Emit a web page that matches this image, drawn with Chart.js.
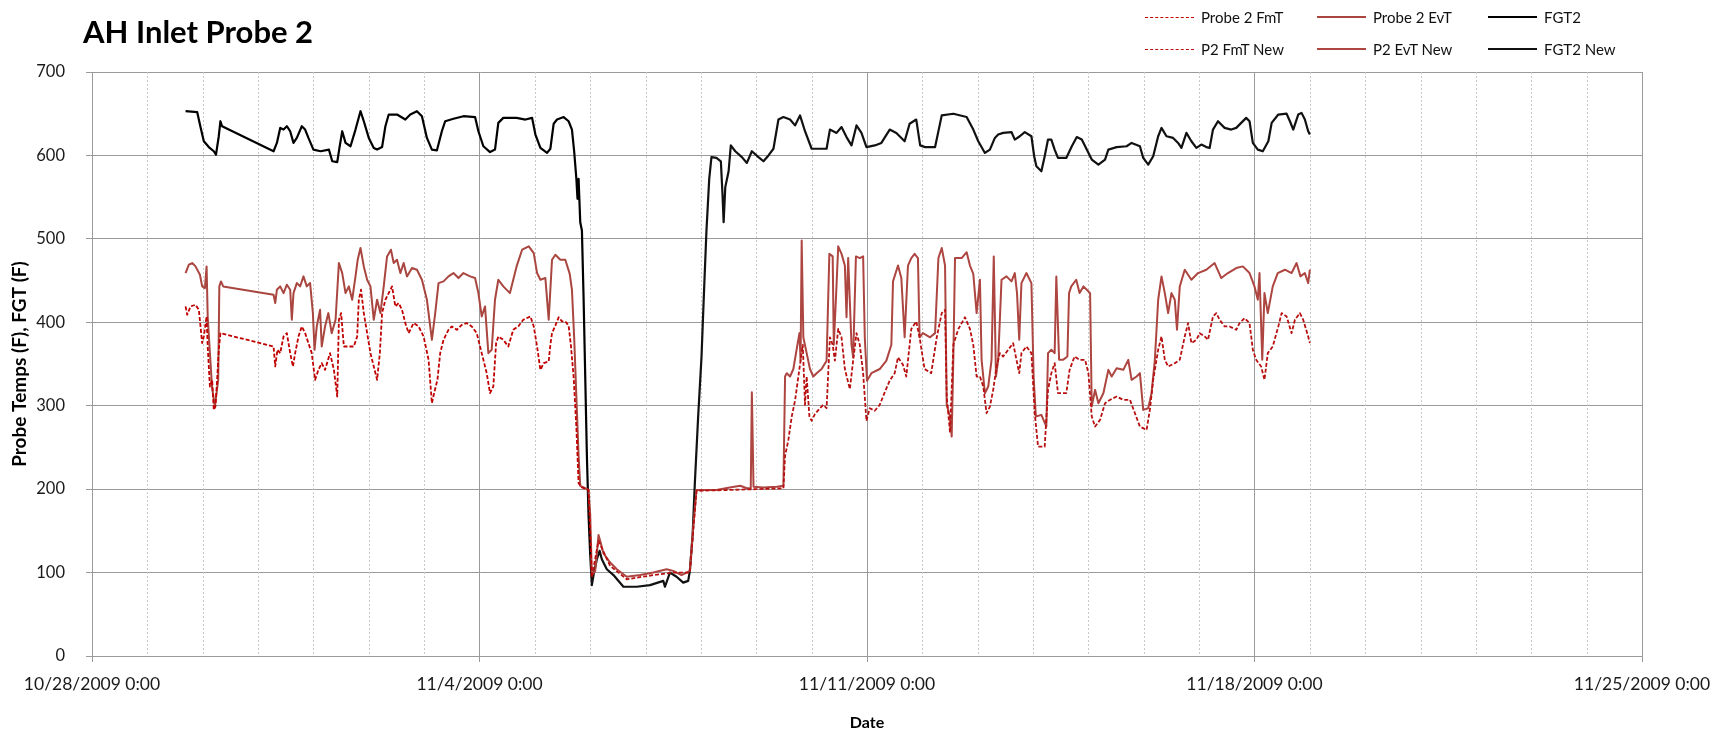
<!DOCTYPE html>
<html>
<head>
<meta charset="utf-8">
<title>AH Inlet Probe 2</title>
<script src="https://cdn.jsdelivr.net/npm/chart.js@4.4.1/dist/chart.umd.min.js"></script>
<style>
  html, body { margin: 0; padding: 0; background: #fff; }
  #wrap { position: relative; width: 1728px; height: 732px; overflow: hidden; }
  #chart { position: absolute; left: 0; top: 0; }
  #title {
    position: absolute; left: 83px; top: 16px;
    font: bold 31px Lato, "Open Sans", sans-serif; line-height: 1; color: #000;
  }
  #legend {
    position: absolute; left: 1145px; top: 1px;
    display: grid; grid-template-columns: 172px 171px 160px; grid-auto-rows: 32px;
    font: 15px Lato, "Open Sans", sans-serif; color: #111;
  }
  #legend .item { display: flex; align-items: center; white-space: nowrap; }
  #legend .sample { display: inline-block; width: 49px; height: 0; margin-right: 7px; }
</style>
</head>
<body>
<div id="wrap">
  <canvas id="chart" width="1728" height="732"></canvas>
  <div id="title">AH Inlet Probe 2</div>
  <div id="legend"></div>
</div>
<script>
// time axis: days since 10/28/2009 0:00
const START_UTC = Date.UTC(2009, 9, 28);
const SPLIT_DAY = 9; // "New" series pick up from 11/6

const fgtDays = [
  1.69, 1.90, 1.96, 2.02, 2.11, 2.20, 2.24, 2.29, 2.32, 2.35,
  3.28, 3.34, 3.40, 3.46, 3.52, 3.58, 3.64, 3.70, 3.79, 3.85,
  3.91, 4.00, 4.13, 4.28, 4.34, 4.43, 4.47, 4.52, 4.58, 4.67,
  4.76, 4.85, 4.91, 5.00, 5.09, 5.15, 5.24, 5.30, 5.36, 5.51,
  5.66, 5.75, 5.87, 5.96, 6.05, 6.14, 6.23, 6.32, 6.38, 6.53,
  6.71, 6.92, 6.98, 7.07, 7.19, 7.28, 7.34, 7.43, 7.67, 7.83,
  7.95, 8.01, 8.10, 8.22, 8.28, 8.34, 8.40, 8.52, 8.61, 8.67,
  8.71, 8.75, 8.77, 8.79, 8.82, 8.85, 8.88, 8.91, 8.94, 8.97,
  9.00, 9.03, 9.06, 9.12, 9.17, 9.21, 9.30, 9.42, 9.60, 9.84,
  10.08, 10.32, 10.35, 10.44, 10.56, 10.68, 10.77, 10.80, 10.85, 10.89,
  10.95, 11.01, 11.06, 11.10, 11.15, 11.19, 11.28, 11.36, 11.39, 11.41,
  11.44, 11.50, 11.54, 11.62, 11.74, 11.83, 11.92, 12.04, 12.13, 12.22,
  12.31, 12.40, 12.49, 12.61, 12.70, 12.79, 12.88, 13.00, 13.15, 13.27,
  13.33, 13.45, 13.54, 13.63, 13.72, 13.81, 13.90, 13.99, 14.14, 14.26,
  14.41, 14.53, 14.68, 14.77, 14.89, 14.96, 15.05, 15.23, 15.35, 15.56,
  15.80, 15.92, 16.01, 16.13, 16.22, 16.31, 16.37, 16.46, 16.61, 16.67,
  16.76, 16.85, 16.97, 17.02, 17.06, 17.15, 17.21, 17.27, 17.33, 17.39,
  17.45, 17.60, 17.70, 17.79, 17.88, 17.97, 18.06, 18.18, 18.30, 18.36,
  18.51, 18.69, 18.78, 18.93, 18.99, 19.08, 19.17, 19.26, 19.32, 19.41,
  19.53, 19.62, 19.68, 19.77, 19.86, 19.95, 20.04, 20.13, 20.19, 20.25,
  20.34, 20.46, 20.58, 20.67, 20.76, 20.85, 20.91, 20.97, 21.06, 21.15,
  21.25, 21.31, 21.43, 21.58, 21.64, 21.70, 21.79, 21.85, 21.91, 21.97, 22.00
];
const fgtTemps = [
  653, 652, 634, 617, 610, 605, 601, 623, 641, 635,
  605, 615, 633, 631, 635, 629, 615, 621, 635, 631,
  621, 607, 605, 607, 593, 592, 609, 629, 615, 611,
  631, 653, 641, 621, 609, 607, 610, 635, 649, 649,
  643, 649, 653, 647, 621, 607, 606, 629, 641, 644,
  647, 646, 629, 611, 604, 607, 639, 645, 645, 643,
  645, 625, 609, 603, 608, 638, 643, 646, 641, 631,
  605, 572, 548, 572, 520, 510, 430, 335, 240, 168,
  121, 85, 97, 116, 126, 116, 104, 97, 83, 83,
  85, 90, 83, 100, 95, 88, 90, 102, 145, 207,
  287, 358, 444, 510, 572, 598, 597, 593, 553, 520,
  562, 581, 612, 605, 598, 591, 605, 598, 593, 600,
  608, 643, 646, 643, 636, 648, 629, 608, 608, 608,
  631, 627, 634, 622, 612, 636, 627, 610, 612, 615,
  631, 627, 617, 638, 643, 612, 610, 610, 648, 650,
  646, 631, 617, 603, 607, 621, 625, 627, 628, 619,
  623, 628, 623, 599, 587, 581, 599, 619, 619, 607,
  597, 597, 611, 622, 619, 607, 595, 589, 595, 607,
  610, 611, 615, 611, 597, 589, 599, 623, 633, 623,
  621, 615, 609, 627, 617, 609, 613, 610, 609, 631,
  641, 633, 631, 633, 639, 645, 641, 615, 607, 605,
  617, 639, 649, 650, 641, 631, 649, 651, 643, 629, 625
];

const evtDays = [
  1.69, 1.75, 1.81, 1.87, 1.95, 1.99, 2.04, 2.07, 2.09, 2.13,
  2.17, 2.22, 2.25, 2.28, 2.30, 2.33, 2.37, 3.28, 3.31, 3.34,
  3.40, 3.46, 3.52, 3.58, 3.61, 3.64, 3.70, 3.76, 3.82, 3.88,
  3.94, 3.99, 4.02, 4.06, 4.12, 4.15, 4.21, 4.27, 4.33, 4.40,
  4.46, 4.52, 4.58, 4.64, 4.70, 4.76, 4.80, 4.85, 4.91, 4.97,
  5.03, 5.09, 5.15, 5.21, 5.27, 5.33, 5.40, 5.45, 5.51, 5.57,
  5.63, 5.69, 5.78, 5.87, 5.96, 6.05, 6.14, 6.20, 6.26, 6.35,
  6.44, 6.53, 6.62, 6.71, 6.83, 6.92, 6.98, 7.04, 7.10, 7.16,
  7.22, 7.28, 7.34, 7.43, 7.55, 7.67, 7.77, 7.89, 7.98, 8.04,
  8.10, 8.19, 8.25, 8.31, 8.37, 8.46, 8.55, 8.63, 8.67, 8.71,
  8.75, 8.79, 8.82, 8.88, 8.97, 9.00, 9.03, 9.09, 9.15, 9.18,
  9.24, 9.36, 9.48, 9.66, 9.90, 10.14, 10.38, 10.50, 10.65, 10.74,
  10.80, 10.86, 10.92, 11.04, 11.28, 11.52, 11.71, 11.83, 11.90, 11.92,
  11.95, 12.13, 12.37, 12.49, 12.52, 12.55, 12.61, 12.67, 12.73, 12.78,
  12.80, 12.82, 12.85, 12.91, 12.97, 13.03, 13.09, 13.18, 13.27, 13.32,
  13.38, 13.40, 13.44, 13.48, 13.54, 13.60, 13.63, 13.66, 13.72, 13.75,
  13.80, 13.87, 13.93, 13.96, 14.00, 14.08, 14.23, 14.35, 14.44, 14.47,
  14.56, 14.62, 14.68, 14.74, 14.80, 14.86, 14.92, 14.95, 15.01, 15.14,
  15.23, 15.29, 15.35, 15.41, 15.44, 15.50, 15.53, 15.56, 15.59, 15.71,
  15.80, 15.86, 15.92, 15.98, 16.04, 16.07, 16.13, 16.19, 16.25, 16.29,
  16.33, 16.37, 16.43, 16.52, 16.61, 16.67, 16.71, 16.75, 16.79, 16.88,
  16.97, 17.01, 17.05, 17.15, 17.24, 17.27, 17.33, 17.39, 17.42, 17.47,
  17.54, 17.62, 17.65, 17.69, 17.78, 17.84, 17.91, 17.97, 18.03, 18.06,
  18.12, 18.18, 18.27, 18.36, 18.42, 18.51, 18.63, 18.72, 18.78, 18.87,
  18.93, 18.99, 19.08, 19.14, 19.20, 19.26, 19.32, 19.38, 19.44, 19.50,
  19.56, 19.60, 19.65, 19.74, 19.86, 19.98, 20.13, 20.28, 20.40, 20.52,
  20.67, 20.79, 20.91, 21.00, 21.06, 21.09, 21.14, 21.18, 21.24, 21.33,
  21.42, 21.55, 21.67, 21.76, 21.83, 21.91, 21.97, 22.00
];
const evtTemps = [
  459, 469, 471, 467, 457, 443, 441, 467, 407, 363,
  321, 299, 315, 331, 443, 449, 443, 433, 423, 439,
  443, 435, 445, 439, 403, 435, 447, 443, 455, 443,
  447, 411, 367, 395, 415, 371, 395, 411, 387, 403,
  471, 459, 435, 443, 427, 455, 475, 489, 467, 451,
  443, 403, 427, 411, 443, 479, 487, 471, 475, 459,
  471, 455, 465, 463, 451, 427, 379, 411, 447, 449,
  455, 459, 453, 459, 455, 453, 435, 407, 419, 363,
  367, 427, 451, 443, 435, 467, 487, 491, 483, 459,
  451, 453, 403, 475, 481, 475, 475, 458, 439, 382,
  311, 240, 204, 202, 199, 169, 97, 102, 145, 138,
  123, 112, 104, 95, 97, 100, 104, 102, 97, 100,
  102, 154, 199, 199, 199, 202, 204, 201, 201, 316,
  203, 202, 203, 204, 335, 339, 335, 344, 368, 387,
  354, 498, 382, 363, 344, 335, 339, 344, 354, 482,
  479, 373, 430, 491, 482, 468, 406, 477, 373, 358,
  479, 477, 479, 382, 330, 339, 344, 354, 373, 449,
  468, 453, 382, 468, 477, 482, 477, 382, 387, 382,
  387, 477, 489, 468, 301, 287, 263, 358, 477, 477,
  484, 468, 458, 411, 451, 355, 315, 323, 355, 479,
  335, 355, 451, 455, 449, 459, 435, 379, 447, 459,
  447, 335, 287, 289, 275, 363, 367, 363, 455, 355,
  355, 359, 435, 443, 451, 435, 443, 439, 435, 299,
  319, 303, 315, 343, 335, 345, 343, 355, 331, 335,
  339, 295, 297, 315, 355, 427, 455, 435, 411, 435,
  427, 391, 443, 463, 451, 459, 463, 471, 453, 459,
  465, 467, 459, 443, 427, 459, 355, 435, 411, 443,
  459, 463, 459, 471, 455, 459, 447, 463
];

const fmtDays = [
  1.69, 1.72, 1.78, 1.87, 1.93, 1.96, 1.99, 2.02, 2.07, 2.09,
  2.13, 2.17, 2.20, 2.23, 2.26, 2.29, 2.32, 3.28, 3.31, 3.35,
  3.40, 3.46, 3.52, 3.58, 3.63, 3.67, 3.73, 3.79, 3.85, 3.91,
  3.97, 4.03, 4.09, 4.15, 4.21, 4.30, 4.37, 4.43, 4.46, 4.50,
  4.55, 4.64, 4.73, 4.79, 4.82, 4.86, 4.91, 4.97, 5.03, 5.09,
  5.15, 5.20, 5.24, 5.30, 5.36, 5.42, 5.48, 5.54, 5.60, 5.66,
  5.72, 5.81, 5.90, 5.99, 6.08, 6.14, 6.18, 6.24, 6.29, 6.35,
  6.44, 6.50, 6.59, 6.68, 6.77, 6.86, 6.95, 7.01, 7.07, 7.13,
  7.19, 7.25, 7.30, 7.34, 7.43, 7.52, 7.61, 7.70, 7.79, 7.92,
  7.98, 8.04, 8.10, 8.16, 8.25, 8.28, 8.31, 8.37, 8.43, 8.49,
  8.55, 8.61, 8.65, 8.70, 8.75, 8.79, 8.85, 8.97, 9.03, 9.15,
  9.36, 9.66, 10.14, 10.50, 10.80, 10.92, 11.50, 12.00, 12.49, 12.52,
  12.58, 12.64, 12.70, 12.76, 12.80, 12.84, 12.88, 12.91, 12.96, 13.00,
  13.06, 13.15, 13.21, 13.27, 13.33, 13.38, 13.42, 13.48, 13.54, 13.60,
  13.69, 13.75, 13.81, 13.87, 13.93, 13.99, 14.05, 14.14, 14.23, 14.32,
  14.41, 14.50, 14.56, 14.65, 14.71, 14.80, 14.89, 14.95, 15.04, 15.16,
  15.26, 15.35, 15.41, 15.44, 15.50, 15.56, 15.65, 15.77, 15.86, 15.92,
  15.98, 16.04, 16.10, 16.16, 16.22, 16.28, 16.34, 16.40, 16.46, 16.55,
  16.64, 16.70, 16.75, 16.79, 16.88, 16.97, 17.03, 17.09, 17.21, 17.27,
  17.33, 17.39, 17.45, 17.51, 17.60, 17.66, 17.75, 17.84, 17.94, 18.00,
  18.06, 18.12, 18.21, 18.30, 18.39, 18.51, 18.63, 18.75, 18.84, 18.93,
  19.05, 19.11, 19.17, 19.26, 19.32, 19.38, 19.44, 19.56, 19.65, 19.74,
  19.80, 19.86, 19.95, 20.01, 20.10, 20.16, 20.25, 20.31, 20.37, 20.46,
  20.55, 20.67, 20.73, 20.82, 20.91, 20.97, 21.03, 21.12, 21.18, 21.24,
  21.33, 21.43, 21.49, 21.58, 21.67, 21.73, 21.82, 21.88, 21.97, 22.00
];
const fmtTemps = [
  419, 409, 419, 421, 415, 395, 375, 383, 407, 371,
  323, 331, 295, 299, 331, 367, 387, 371, 347, 367,
  363, 383, 387, 363, 347, 363, 383, 395, 387, 375,
  363, 331, 343, 351, 343, 363, 343, 311, 403, 411,
  371, 371, 371, 383, 427, 439, 411, 387, 363, 347,
  331, 363, 411, 427, 435, 443, 419, 423, 415, 399,
  387, 399, 395, 383, 355, 303, 315, 331, 363, 379,
  391, 395, 391, 397, 399, 395, 387, 371, 355, 339,
  315, 323, 375, 383, 379, 371, 391, 395, 403, 407,
  395, 371, 343, 351, 353, 373, 387, 396, 406, 401,
  401, 396, 373, 335, 274, 207, 202, 199, 95, 138,
  108, 92, 97, 100, 100, 198, 199, 200, 201, 240,
  259, 287, 306, 335, 354, 373, 301, 335, 287, 282,
  290, 297, 301, 297, 382, 373, 354, 392, 382, 344,
  320, 354, 387, 373, 339, 282, 297, 294, 301, 316,
  330, 339, 358, 349, 335, 392, 401, 382, 344, 339,
  382, 411, 415, 311, 268, 373, 392, 406, 392, 373,
  335, 335, 323, 291, 299, 319, 347, 363, 359, 367,
  375, 355, 339, 363, 371, 363, 291, 251, 251, 319,
  339, 351, 315, 315, 315, 343, 359, 355, 355, 339,
  287, 275, 283, 303, 307, 311, 307, 307, 291, 275,
  271, 295, 331, 367, 383, 355, 347, 351, 355, 383,
  399, 375, 379, 387, 383, 379, 407, 411, 403, 395,
  395, 391, 399, 405, 399, 367, 355, 347, 331, 363,
  371, 395, 411, 407, 387, 403, 411, 403, 383, 375
];

const xTickDays = [0, 7, 14, 21, 28];
const yTicks = [0, 100, 200, 300, 400, 500, 600, 700];

function toPoints(days, temps) {
  const n = Math.min(days.length, temps.length);
  const pts = [];
  for (let i = 0; i < n; i++) pts.push({ x: days[i], y: temps[i] });
  return pts;
}

// old series run up to the split, new series carry on from it
function splitAt(points, day) {
  const k = points.findIndex(p => p.x >= day);
  return [points.slice(0, k + 1), points.slice(k)];
}

function dayLabel(d) {
  const dt = new Date(START_UTC + d * 86400000);
  return (dt.getUTCMonth() + 1) + '/' + dt.getUTCDate() + '/' + dt.getUTCFullYear() + ' 0:00';
}

const [fmtOld, fmtNew] = splitAt(toPoints(fmtDays, fmtTemps), SPLIT_DAY);
const [evtOld, evtNew] = splitAt(toPoints(evtDays, evtTemps), SPLIT_DAY);
const [fgtOld, fgtNew] = splitAt(toPoints(fgtDays, fgtTemps), SPLIT_DAY);

// dotted day lines between the weekly grid lines
const dayGrid = {
  id: 'dayGrid',
  beforeDatasetsDraw(chart) {
    const { ctx, chartArea, scales: { x } } = chart;
    ctx.save();
    ctx.strokeStyle = '#c8c8c8';
    ctx.lineWidth = 1;
    ctx.setLineDash([2, 2]);
    for (let d = Math.ceil(x.min); d <= x.max; d++) {
      if (xTickDays.includes(d)) continue;
      const px = Math.round(x.getPixelForValue(d)) + 0.5;
      ctx.beginPath();
      ctx.moveTo(px, chartArea.top);
      ctx.lineTo(px, chartArea.bottom);
      ctx.stroke();
    }
    ctx.restore();
  }
};

Chart.defaults.font.family = 'Lato, "Open Sans", sans-serif';
Chart.defaults.color = '#222';

const chart = new Chart(document.getElementById('chart'), {
  type: 'line',
  data: {
    datasets: [
      { label: 'Probe 2 FmT', data: fmtOld, borderColor: '#c00000', borderWidth: 1.8, borderDash: [4, 2] },
      { label: 'Probe 2 EvT', data: evtOld, borderColor: '#a9463f', borderWidth: 2 },
      { label: 'FGT2', data: fgtOld, borderColor: '#000000', borderWidth: 2.2 },
      { label: 'P2 FmT New', data: fmtNew, borderColor: '#b81010', borderWidth: 1.8, borderDash: [4, 2] },
      { label: 'P2 EvT New', data: evtNew, borderColor: '#ad4540', borderWidth: 2 },
      { label: 'FGT2 New', data: fgtNew, borderColor: '#111111', borderWidth: 2.2 }
    ]
  },
  options: {
    responsive: false,
    animation: false,
    layout: { padding: { top: 72, right: 86, bottom: 0, left: 0 } },
    elements: { point: { radius: 0 }, line: { tension: 0, borderJoinStyle: 'round' } },
    plugins: { legend: { display: false }, tooltip: { enabled: false } },
    scales: {
      x: {
        type: 'linear', min: 0, max: 28,
        afterBuildTicks: s => { s.ticks = xTickDays.map(v => ({ value: v })); },
        afterFit: s => { s.height = 76; },
        ticks: { callback: v => dayLabel(v), maxRotation: 0, autoSkip: false, padding: 12, font: { size: 17.5 }, color: '#1a1a1a' },
        grid: { color: '#9a9a9a', tickLength: 6 },
        border: { color: '#9a9a9a' },
        title: { display: true, text: 'Date', color: '#000', font: { size: 16, weight: 'bold' }, padding: { top: 0, bottom: 0 } }
      },
      y: {
        min: 0, max: 700,
        afterBuildTicks: s => { s.ticks = yTicks.map(v => ({ value: v })); },
        afterFit: s => { s.width = 92; },
        ticks: { padding: 21, font: { size: 16.5 }, color: '#1a1a1a' },
        grid: { color: '#9a9a9a', tickLength: 6 },
        border: { color: '#9a9a9a' },
        title: { display: true, text: 'Probe Temps (F), FGT (F)', color: '#000', font: { size: 19, weight: 'bold' }, padding: { top: 8, bottom: 0 } }
      }
    }
  },
  plugins: [dayGrid]
});

// legend in three columns, built from the chart's own legend items
const legendBox = document.getElementById('legend');
chart.options.plugins.legend.labels.generateLabels(chart).forEach(item => {
  const ds = chart.data.datasets[item.datasetIndex];
  const el = document.createElement('div');
  el.className = 'item';
  const sample = document.createElement('span');
  sample.className = 'sample';
  sample.style.borderTop = ds.borderWidth + 'px ' + (ds.borderDash ? 'dashed' : 'solid') + ' ' + ds.borderColor;
  el.appendChild(sample);
  el.appendChild(document.createTextNode(item.text));
  legendBox.appendChild(el);
});
</script>
</body>
</html>
